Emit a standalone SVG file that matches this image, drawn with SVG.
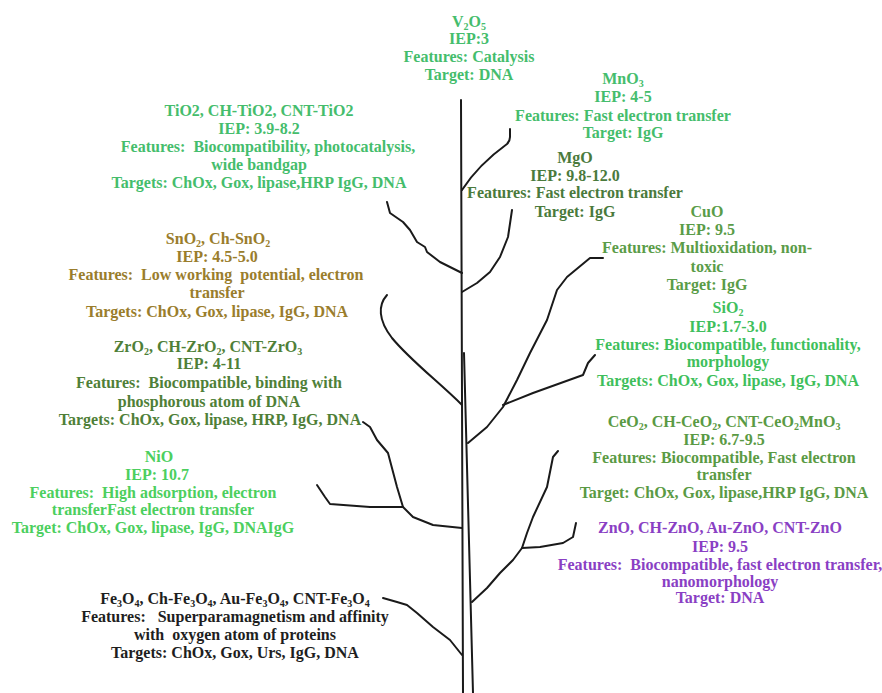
<svg xmlns="http://www.w3.org/2000/svg" width="882" height="693" viewBox="0 0 882 693">
<style>
text{font-family:"Liberation Serif","Times New Roman",serif;font-weight:bold;font-size:16px;text-anchor:middle;white-space:pre}
.s{font-size:10px;baseline-shift:-3px}
.br{fill:none;stroke:#1a1a1a;stroke-width:2;stroke-linejoin:round;stroke-linecap:round}
.lg{fill:#45bd6c}.mg{fill:#4a7a3c}.cu{fill:#5a9c48}.sn{fill:#9a7d2c}.zr{fill:#4f7f38}.si{fill:#3fbf5c}.ce{fill:#5a9a44}.ni{fill:#4ccf5e}.zn{fill:#8a3fc4}.fe{fill:#1e1e1e}
</style>
<rect width="882" height="693" fill="#ffffff"/>
<g id="connectors">
<path class="br" d="M461,100 L463,693"/>
<path class="br" d="M464,353 L473,693"/>
<path class="br" d="M462,190 Q478,165 507,144 Q510,141 510,137 L510,129"/>
<polyline class="br" points="462,292 477,283 490,272 500,257 508,237 512,210"/>
<polyline class="br" points="462,273 440,262 427,252 425,247 417,242 410,230 403,222 390,213 387,202"/>
<path class="br" d="M462,405 C440,383 410,360 392,338 C378,320 378,305 387,295"/>
<polyline class="br" points="468,443 487,427 503,407 517,380 530,353 547,320 557,290 567,277 590,258 603,258"/>
<polyline class="br" points="503,405 533,393 583,375 588,363 595,355"/>
<polyline class="br" points="462,528 433,525 413,517 403,507 397,487 388,453 377,440 370,427 363,422"/>
<polyline class="br" points="403,507 370,507 330,504 325,497 317,485"/>
<polyline class="br" points="472,602 487,588 500,573 513,560 522,548 527,533 533,517 547,487 553,457 558,451"/>
<polyline class="br" points="522,548 540,547 563,543 573,537 576,523"/>
<polyline class="br" points="383,598 397,602 407,605 417,613 433,627 450,640 462,655"/>
</g>
<g id="v2o5" class="lg">
<text x="469" y="27">V<tspan class="s">2</tspan>O<tspan class="s">5</tspan></text>
<text x="469" y="44">IEP:3</text>
<text x="469" y="62">Features: Catalysis</text>
<text x="469" y="80">Target: DNA</text>
</g>
<g id="tio2" class="lg">
<text x="259" y="116">TiO2, CH-TiO2, CNT-TiO2</text>
<text x="259" y="134">IEP: 3.9-8.2</text>
<text x="268" y="152">Features:  Biocompatibility, photocatalysis,</text>
<text x="259" y="170">wide bandgap</text>
<text x="259" y="188">Targets: ChOx, Gox, lipase,HRP IgG, DNA</text>
</g>
<g id="mno3" class="lg">
<text x="623" y="84">MnO<tspan class="s">3</tspan></text>
<text x="623" y="102">IEP: 4-5</text>
<text x="623" y="121">Features: Fast electron transfer</text>
<text x="623" y="138">Target: IgG</text>
</g>
<g id="mgo" class="mg">
<text x="575" y="163">MgO</text>
<text x="575" y="181">IEP: 9.8-12.0</text>
<text x="575" y="198">Features: Fast electron transfer</text>
<text x="575" y="217">Target: IgG</text>
</g>
<g id="cuo" class="cu">
<text x="707" y="217">CuO</text>
<text x="707" y="235">IEP: 9.5</text>
<text x="707" y="253">Features: Multioxidation, non-</text>
<text x="707" y="272">toxic</text>
<text x="707" y="290">Target: IgG</text>
</g>
<g id="sio2" class="si">
<text x="728" y="313">SiO<tspan class="s">2</tspan></text>
<text x="728" y="332">IEP:1.7-3.0</text>
<text x="728" y="350">Features: Biocompatible, functionality,</text>
<text x="728" y="367">morphology</text>
<text x="728" y="386">Targets: ChOx, Gox, lipase, IgG, DNA</text>
</g>
<g id="sno2" class="sn">
<text x="218" y="244">SnO<tspan class="s">2</tspan>, Ch-SnO<tspan class="s">2</tspan></text>
<text x="217" y="262">IEP: 4.5-5.0</text>
<text x="216" y="280">Features:  Low working  potential, electron</text>
<text x="217" y="298">transfer</text>
<text x="217" y="317">Targets: ChOx, Gox, lipase, IgG, DNA</text>
</g>
<g id="zro2" class="zr">
<text x="208" y="352">ZrO<tspan class="s">2</tspan>, CH-ZrO<tspan class="s">2</tspan>, CNT-ZrO<tspan class="s">3</tspan></text>
<text x="209" y="369">IEP: 4-11</text>
<text x="209" y="388">Features:  Biocompatible, binding with</text>
<text x="209" y="407">phosphorous atom of DNA</text>
<text x="210" y="425">Targets: ChOx, Gox, lipase, HRP, IgG, DNA</text>
</g>
<g id="ceo2" class="ce">
<text x="724" y="427">CeO<tspan class="s">2</tspan>, CH-CeO<tspan class="s">2</tspan>, CNT-CeO<tspan class="s">2</tspan>MnO<tspan class="s">3</tspan></text>
<text x="724" y="445">IEP: 6.7-9.5</text>
<text x="724" y="463">Features: Biocompatible, Fast electron</text>
<text x="724" y="480">transfer</text>
<text x="724" y="498">Target: ChOx, Gox, lipase,HRP IgG, DNA</text>
</g>
<g id="zno" class="zn">
<text x="720" y="533">ZnO, CH-ZnO, Au-ZnO, CNT-ZnO</text>
<text x="720" y="552">IEP: 9.5</text>
<text x="720" y="570">Features:  Biocompatible, fast electron transfer,</text>
<text x="720" y="587">nanomorphology</text>
<text x="720" y="603">Target: DNA</text>
</g>
<g id="nio" class="ni">
<text x="159" y="462">NiO</text>
<text x="157" y="480">IEP: 10.7</text>
<text x="153" y="498">Features:  High adsorption, electron</text>
<text x="153" y="515">transferFast electron transfer</text>
<text x="153" y="533">Target: ChOx, Gox, lipase, IgG, DNAIgG</text>
</g>
<g id="fe3o4" class="fe">
<text x="235" y="604">Fe<tspan class="s">3</tspan>O<tspan class="s">4</tspan>, Ch-Fe<tspan class="s">3</tspan>O<tspan class="s">4</tspan>, Au-Fe<tspan class="s">3</tspan>O<tspan class="s">4</tspan>, CNT-Fe<tspan class="s">3</tspan>O<tspan class="s">4</tspan></text>
<text x="235" y="622">Features:   Superparamagnetism and affinity</text>
<text x="235" y="640">with  oxygen atom of proteins</text>
<text x="235" y="658">Targets: ChOx, Gox, Urs, IgG, DNA</text>
</g>
</svg>
